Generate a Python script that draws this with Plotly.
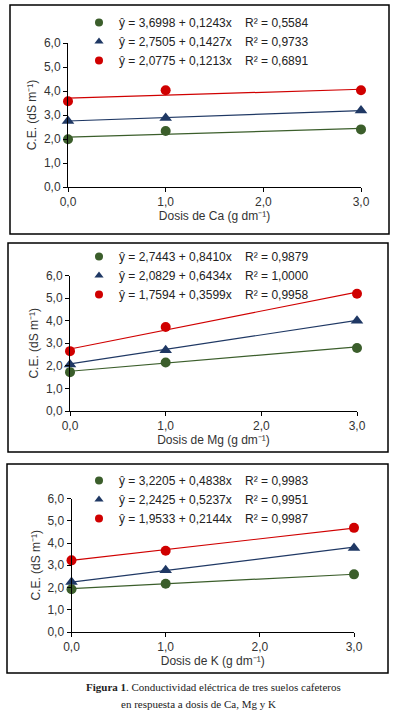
import plotly.graph_objects as go

# ---------------- data ----------------
x_dose = [0, 1, 3]

# Ca panel
ca_red = [3.57, 4.03, 4.03]
ca_blue = [2.75, 2.87, 3.19]
ca_green = [1.99, 2.33, 2.40]
ca_intercepts = [3.6998, 2.7505, 2.0775]
ca_slopes = [0.1243, 0.1427, 0.1213]
ca_r2 = ["0,5584", "0,9733", "0,6891"]

# Mg panel
mg_red = [2.65, 3.72, 5.19]
mg_blue = [2.06, 2.69, 4.00]
mg_green = [1.72, 2.15, 2.79]
mg_intercepts = [2.7443, 2.0829, 1.7594]
mg_slopes = [0.8410, 0.6434, 0.3599]
mg_r2 = ["0,9879", "1,0000", "0,9958"]

# K panel
k_red = [3.22, 3.65, 4.68]
k_blue = [2.25, 2.78, 3.78]
k_green = [1.92, 2.17, 2.59]
k_intercepts = [3.2205, 2.2425, 1.9533]
k_slopes = [0.4838, 0.5237, 0.2144]
k_r2 = ["0,9983", "0,9951", "0,9987"]

x_titles = ["Dosis de Ca (g dm⁻¹)",
            "Dosis de Mg (g dm⁻¹)",
            "Dosis de K (g dm⁻¹)"]
y_title = "C.E. (dS m⁻¹)"
y_ticks = [0, 1, 2, 3, 4, 5, 6]
x_ticks = [0, 1, 2, 3]

GREEN = "#3b5e2b"
NAVY = "#1f3864"
RED = "#d00000"
FONT = "Liberation Sans, Arial, sans-serif"

W, H = 395, 720

def px_x(p):
    return p / W

def px_y(p):
    return 1 - p / H

panels = [
    dict(red=ca_red, blue=ca_blue, green=ca_green, b=ca_intercepts, m=ca_slopes, r2=ca_r2,
         xd=(68, 361), yd=(187, 43), box=(10, 5, 389, 234), leg=(79, 8)),
    dict(red=mg_red, blue=mg_blue, green=mg_green, b=mg_intercepts, m=mg_slopes, r2=mg_r2,
         xd=(70, 357), yd=(411, 275.5), box=(8, 243, 388, 452), leg=(79, 242)),
    dict(red=k_red, blue=k_blue, green=k_green, b=k_intercepts, m=k_slopes, r2=k_r2,
         xd=(71.5, 354), yd=(632, 498.5), box=(7, 464, 388, 673), leg=(79, 466)),
]

fig = go.Figure()
layout = dict(
    width=W, height=H,
    margin=dict(l=0, r=0, t=0, b=0, autoexpand=False),
    paper_bgcolor="white", plot_bgcolor="white",
    separators=",.",
    showlegend=True,
    font=dict(family=FONT, size=12, color="#333333"),
)
shapes = []

line_x = [0, 3]
for i, p in enumerate(panels):
    n = "" if i == 0 else str(i + 1)
    xa, ya = "x" + n, "y" + n
    legname = "legend" + n
    # regression lines: red -> eq 0, blue -> eq 1, green -> eq 2
    for series, col, k in [(p["red"], RED, 0), (p["blue"], NAVY, 1), (p["green"], GREEN, 2)]:
        fig.add_trace(go.Scatter(
            x=line_x, y=[p["b"][k] + p["m"][k] * xv for xv in line_x],
            mode="lines", line=dict(color=col, width=1.2),
            showlegend=False, xaxis=xa, yaxis=ya, hoverinfo="skip", cliponaxis=False))
    for series, col, sym in [(p["red"], RED, "circle"), (p["blue"], NAVY, "triangle-up"),
                             (p["green"], GREEN, "circle")]:
        fig.add_trace(go.Scatter(
            x=x_dose, y=series, mode="markers",
            marker=dict(color=col, size=10 if sym == "circle" else 11, symbol=sym),
            showlegend=False, xaxis=xa, yaxis=ya, cliponaxis=False))
    # legend entries (green, navy, red as in original)
    for k, (col, sym) in enumerate([(GREEN, "circle"), (NAVY, "triangle-up"), (RED, "circle")]):
        txt = ("ŷ = %s + %sx" % (("%.4f" % p["b"][k]).replace(".", ","),
                                 ("%.4f" % p["m"][k]).replace(".", ","))
               + "\u00a0\u00a0\u00a0\u00a0R² = " + p["r2"][k])
        fig.add_trace(go.Scatter(
            x=[None], y=[None], mode="markers",
            marker=dict(color=col, size=8, symbol=sym),
            name=txt, legend=legname, xaxis=xa, yaxis=ya))
    layout["xaxis" + n] = dict(
        domain=[px_x(p["xd"][0]), px_x(p["xd"][1])], anchor=ya, range=[0, 3],
        tickvals=x_ticks, tickformat=".1f", showline=True, linecolor="black", linewidth=1,
        ticks="outside", ticklen=4, tickcolor="black", showgrid=False, zeroline=False,
        automargin=False,
        title=dict(text=x_titles[i], font=dict(size=12, family=FONT, color="#333333"), standoff=0),
        tickfont=dict(size=12, family=FONT, color="#333333"), fixedrange=True)
    layout["yaxis" + n] = dict(
        domain=[px_y(p["yd"][0]), px_y(p["yd"][1])], anchor=xa, range=[0, 6],
        tickvals=y_ticks, tickformat=".1f", showline=True, linecolor="black", linewidth=1,
        ticks="outside", ticklen=4, tickcolor="black", showgrid=False, zeroline=False,
        automargin=False,
        title=dict(text=y_title, font=dict(size=12, family=FONT, color="#333333"), standoff=4),
        tickfont=dict(size=12, family=FONT, color="#333333"), fixedrange=True)
    layout[legname] = dict(
        x=px_x(p["leg"][0]), y=px_y(p["leg"][1]), xanchor="left", yanchor="top",
        bgcolor="rgba(0,0,0,0)", font=dict(size=12, family=FONT, color="#222222"),
        itemclick=False, itemdoubleclick=False, tracegroupgap=0)
    x0, y0, x1, y1 = p["box"]
    shapes.append(dict(type="rect", xref="paper", yref="paper",
                       x0=px_x(x0), x1=px_x(x1), y0=px_y(y1), y1=px_y(y0),
                       line=dict(color="black", width=1.5), fillcolor="rgba(0,0,0,0)"))

layout["shapes"] = shapes
layout["annotations"] = [
    dict(text="<b>Figura 1</b>. Conductividad eléctrica de tres suelos cafeteros",
         xref="paper", yref="paper", x=px_x(213), y=px_y(687), showarrow=False,
         xanchor="center", yanchor="middle",
         font=dict(family="Liberation Serif, DejaVu Serif, serif", size=11, color="#222222")),
    dict(text="en respuesta a dosis de Ca, Mg y K",
         xref="paper", yref="paper", x=px_x(198), y=px_y(704), showarrow=False,
         xanchor="center", yanchor="middle",
         font=dict(family="Liberation Serif, DejaVu Serif, serif", size=11, color="#222222")),
]
fig.update_layout(**layout)
fig.write_html("out.html", config={"displayModeBar": False},
               post_script="document.body.style.margin='0px';document.body.style.overflow='hidden';")
